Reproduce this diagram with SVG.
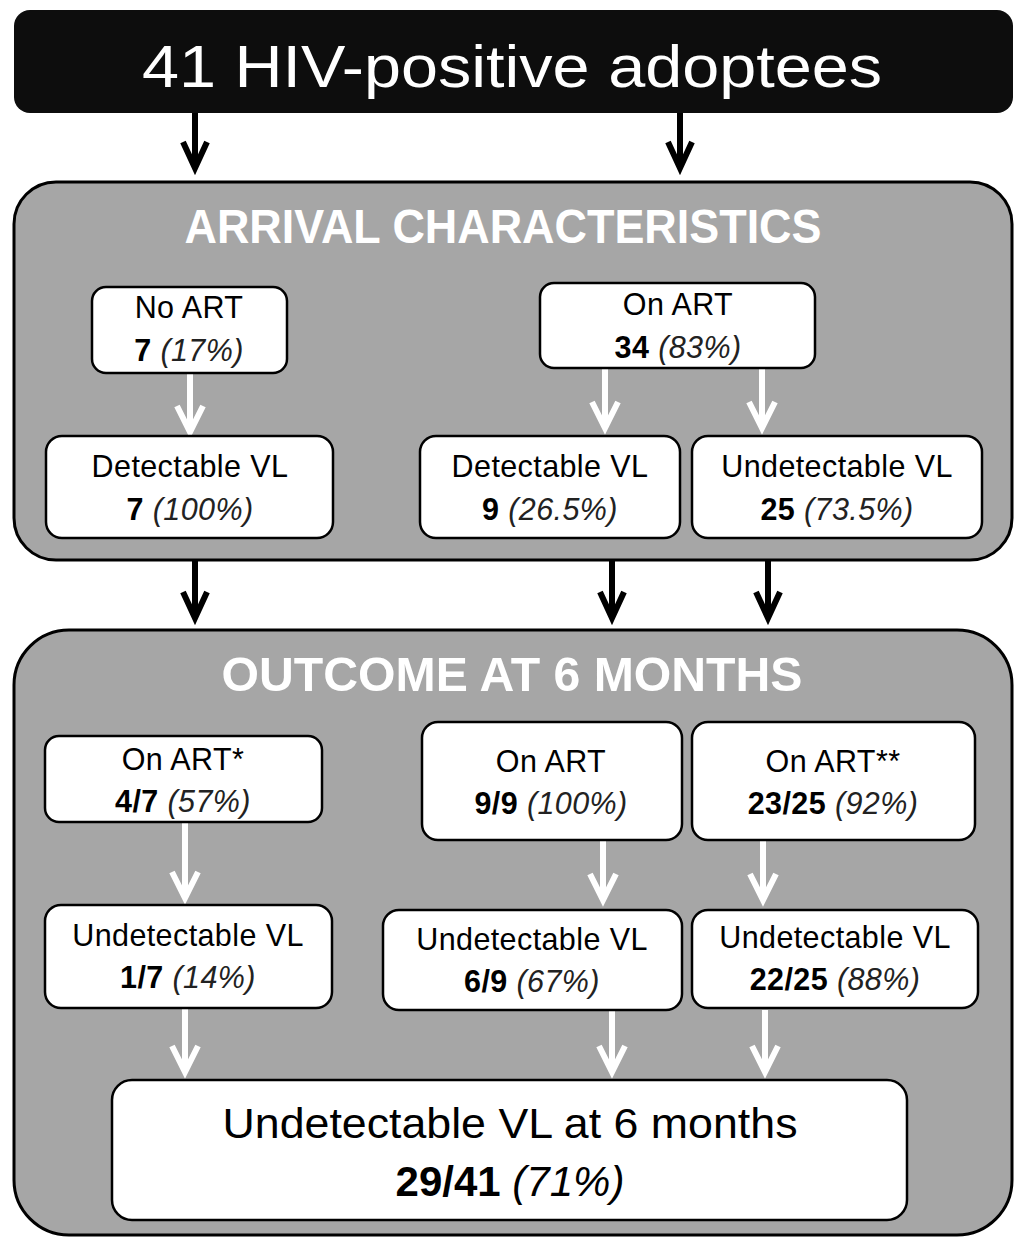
<svg xmlns="http://www.w3.org/2000/svg" width="1018" height="1241" viewBox="0 0 1018 1241">
<style>
.panel{fill:#a6a6a6;stroke:#000;stroke-width:3}
.box{fill:#fff;stroke:#000;stroke-width:2.5}
.t{font-family:"Liberation Sans",Arial,sans-serif;font-size:30.5px;letter-spacing:0.4px;fill:#000;text-anchor:middle}
.b{font-weight:bold}
.i{font-style:italic;fill:#222}
.title{font-family:"Liberation Sans",Arial,sans-serif;font-weight:bold;font-size:48px;fill:#fff;text-anchor:middle}
.ka{stroke:#000;stroke-width:6;fill:none}
.wa{stroke:#fff;stroke-width:6;fill:none}
</style>
<defs>
<marker id="mk" markerUnits="userSpaceOnUse" orient="auto" markerWidth="40" markerHeight="40" refX="0" refY="0" viewBox="-30 -20 40 40" overflow="visible">
<path d="M-26,-12 L0,0 L-26,12" fill="none" stroke="#000" stroke-width="6" stroke-linejoin="miter"/>
</marker>
<marker id="mw" markerUnits="userSpaceOnUse" orient="auto" markerWidth="40" markerHeight="40" refX="0" refY="0" viewBox="-30 -20 40 40" overflow="visible">
<path d="M-26,-13 L0,0 L-26,13" fill="none" stroke="#fff" stroke-width="6" stroke-linejoin="miter"/>
</marker>
</defs>

<g id="top">
<rect x="14" y="10" width="999" height="103" rx="16" fill="#0d0d0d"/>
<text x="512" y="87" font-family="Liberation Sans,Arial,sans-serif" font-size="60" fill="#fff" text-anchor="middle" textLength="740" lengthAdjust="spacingAndGlyphs">41 HIV-positive adoptees</text>
</g>

<g id="arrival">
<rect class="panel" x="14" y="182" width="998" height="378" rx="42"/>
<text class="title" x="503" y="243" textLength="637" lengthAdjust="spacingAndGlyphs">ARRIVAL CHARACTERISTICS</text>
</g>

<g id="outcome">
<rect class="panel" x="14" y="630" width="998" height="605" rx="55"/>
<text class="title" x="512" y="691" textLength="581" lengthAdjust="spacingAndGlyphs">OUTCOME AT 6 MONTHS</text>
</g>

<g id="connectors">
<path class="ka" d="M195,113 V168" marker-end="url(#mk)"/>
<path class="ka" d="M680,113 V168" marker-end="url(#mk)"/>
<path class="ka" d="M195,560 V618" marker-end="url(#mk)"/>
<path class="ka" d="M612,560 V618" marker-end="url(#mk)"/>
<path class="ka" d="M768,560 V618" marker-end="url(#mk)"/>
<path class="wa" d="M190,374 V432" marker-end="url(#mw)"/>
<path class="wa" d="M605,368 V428" marker-end="url(#mw)"/>
<path class="wa" d="M762,368 V428" marker-end="url(#mw)"/>
<path class="wa" d="M185,822 V898" marker-end="url(#mw)"/>
<path class="wa" d="M603,840 V900" marker-end="url(#mw)"/>
<path class="wa" d="M763,840 V900" marker-end="url(#mw)"/>
<path class="wa" d="M185,1008 V1072" marker-end="url(#mw)"/>
<path class="wa" d="M612,1010 V1072" marker-end="url(#mw)"/>
<path class="wa" d="M765,1010 V1072" marker-end="url(#mw)"/>
</g>

<g id="noart">
<rect class="box" x="92" y="287" width="195" height="86" rx="14"/>
<text class="t" x="189" y="318">No ART</text>
<text class="t" x="189" y="361"><tspan class="b">7</tspan> <tspan class="i">(17%)</tspan></text>
</g>
<g id="onart">
<rect class="box" x="540" y="283" width="275" height="85" rx="14"/>
<text class="t" x="678" y="315">On ART</text>
<text class="t" x="678" y="358"><tspan class="b">34</tspan> <tspan class="i">(83%)</tspan></text>
</g>
<g id="det1">
<rect class="box" x="46" y="436" width="287" height="102" rx="16"/>
<text class="t" x="190" y="477">Detectable VL</text>
<text class="t" x="190" y="520"><tspan class="b">7</tspan> <tspan class="i">(100%)</tspan></text>
</g>
<g id="det2">
<rect class="box" x="420" y="436" width="260" height="102" rx="16"/>
<text class="t" x="550" y="477">Detectable VL</text>
<text class="t" x="550" y="520"><tspan class="b">9</tspan> <tspan class="i">(26.5%)</tspan></text>
</g>
<g id="undet1">
<rect class="box" x="692" y="436" width="290" height="102" rx="16"/>
<text class="t" x="837" y="477">Undetectable VL</text>
<text class="t" x="837" y="520"><tspan class="b">25</tspan> <tspan class="i">(73.5%)</tspan></text>
</g>

<g id="onart6a">
<rect class="box" x="45" y="736" width="277" height="86" rx="14"/>
<text class="t" x="183" y="770">On ART*</text>
<text class="t" x="183" y="812"><tspan class="b">4/7</tspan> <tspan class="i">(57%)</tspan></text>
</g>
<g id="onart6b">
<rect class="box" x="422" y="722" width="260" height="118" rx="16"/>
<text class="t" x="551" y="772">On ART</text>
<text class="t" x="551" y="814"><tspan class="b">9/9</tspan> <tspan class="i">(100%)</tspan></text>
</g>
<g id="onart6c">
<rect class="box" x="692" y="722" width="283" height="118" rx="16"/>
<text class="t" x="833" y="772">On ART**</text>
<text class="t" x="833" y="814"><tspan class="b">23/25</tspan> <tspan class="i">(92%)</tspan></text>
</g>
<g id="undet6a">
<rect class="box" x="45" y="905" width="287" height="103" rx="16"/>
<text class="t" x="188" y="946">Undetectable VL</text>
<text class="t" x="188" y="988"><tspan class="b">1/7</tspan> <tspan class="i">(14%)</tspan></text>
</g>
<g id="undet6b">
<rect class="box" x="383" y="910" width="299" height="100" rx="16"/>
<text class="t" x="532" y="950">Undetectable VL</text>
<text class="t" x="532" y="992"><tspan class="b">6/9</tspan> <tspan class="i">(67%)</tspan></text>
</g>
<g id="undet6c">
<rect class="box" x="692" y="910" width="286" height="98" rx="16"/>
<text class="t" x="835" y="948">Undetectable VL</text>
<text class="t" x="835" y="990"><tspan class="b">22/25</tspan> <tspan class="i">(88%)</tspan></text>
</g>
<g id="final">
<rect class="box" x="112" y="1080" width="795" height="140" rx="20"/>
<text x="510" y="1138" font-family="Liberation Sans,Arial,sans-serif" font-size="42" text-anchor="middle" textLength="575" lengthAdjust="spacingAndGlyphs">Undetectable VL at 6 months</text>
<text x="510" y="1196" font-family="Liberation Sans,Arial,sans-serif" font-size="42" text-anchor="middle"><tspan font-weight="bold">29/41</tspan> <tspan font-style="italic">(71%)</tspan></text>
</g>
</svg>
